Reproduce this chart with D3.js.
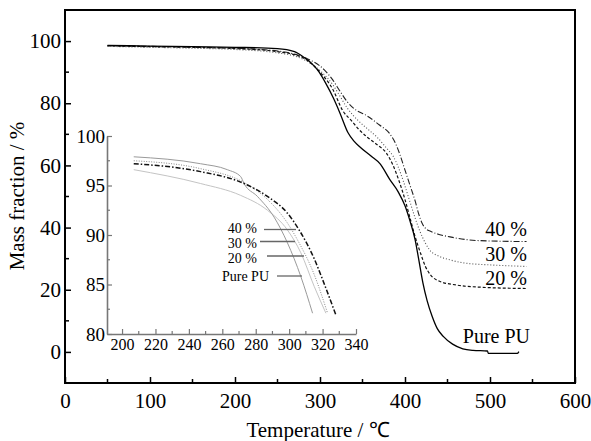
<!DOCTYPE html>
<html><head><meta charset="utf-8">
<script src="https://cdn.jsdelivr.net/npm/d3@7"></script>
<style>body{margin:0;background:#fff}svg{display:block}</style>
</head><body><svg id="c" width="591" height="441"></svg>
<script>
// ---- main chart data (Temperature °C, Mass fraction %) ----
const pureT = [50,100,150,200,250,270,281,291,299,307,316,324,333,340,347,360,371,382,392,400,406,412,416,421,426,432,438,445,456,468,480,497,498,532,534];
const pureM = [98.6,98.4,98.2,98.0,97.6,96.6,94.8,92.6,90.0,86.3,81.5,76.5,70.5,67.8,65.9,63.0,60.4,55.5,51.5,47.0,42.0,36.0,30.0,22.3,16.5,11.4,7.5,5.0,2.5,1.0,0.5,0.3,-0.5,-0.5,0.1];
const p40T = [50,100,150,200,250,270,285,299,307,315,323,332,340,355,370,382,389,394,400,406,412,416,420,425,430,440,453,470,488,543];
const p40M = [98.5,98.3,98.0,97.7,96.8,95.8,94.3,92.2,90.2,87.5,84.1,80.5,78.3,76.0,73.0,70.2,67.0,63.5,58.5,53.5,48.5,44.5,41.5,39.5,38.8,37.8,37.0,36.2,35.8,35.5];
const p30T = [50,100,150,200,250,270,285,300,315,323,332,345,357,367,380,386,392,398,405,412,418,424,429,440,453,470,500,543];
const p30M = [98.3,98.0,97.7,97.3,96.2,95.2,93.5,90.5,86.0,82.5,78.5,74.4,71.5,69.1,65.0,63.0,59.5,55.0,49.0,43.0,38.5,35.0,32.8,30.8,29.6,28.6,28.0,27.5];
const p20T = [50,100,150,200,250,270,285,300,315,327,337,346,356,368,378,386,393,400,406,412,418,424,430,440,461,490,543];
const p20M = [98.5,98.2,98.0,97.6,96.6,95.6,93.8,90.0,84.5,77.5,74.4,71.5,69.0,66.5,64.0,60.0,55.0,49.0,43.0,37.0,32.0,27.5,24.8,22.8,21.5,20.8,20.4];

// ---- inset data (zoom 190-340 °C) ----
const inPureT = [207,247,263,271,273,281,291,299,307,314];
const inPureM = [97.9,97.2,96.6,95.9,95.2,93.9,91.8,89.2,85.8,82.1];
const in40T = [207,247,273,287,299,306,315,320,328];
const in40M = [97.2,96.4,95.2,93.9,92.2,90.5,87.6,85.5,81.9];
const in30T = [207,247,273,287,299,305,315,323];
const in30M = [97.5,96.7,95.3,93.6,91.2,89.5,86.0,82.1];
const in20T = [207,247,271,287,299,307,315,322];
const in20M = [96.6,95.2,94.0,92.5,90.5,88.2,84.8,82.1];

const mainXTicks = [0,100,200,300,400,500,600];
const mainYTicks = [0,20,40,60,80,100];
const insetXTicks = [200,220,240,260,280,300,320,340];
const insetYTicks = [80,85,90,95,100];
const seriesLabels = ["40 %","30 %","20 %","Pure PU"];

const svg = d3.select("#c");
const FONT = "'Liberation Serif','Times New Roman',serif";

// main scales
const x = d3.scaleLinear().domain([0,600]).range([65,575]);
const y = d3.scaleLinear().domain([-10,110]).range([383,10]);

// inward ticks
const xAxis = d3.axisBottom(x).tickValues(mainXTicks).tickSize(-6).tickPadding(10).tickFormat(d3.format("d"));
const yAxis = d3.axisLeft(y).tickValues(mainYTicks).tickSize(-6).tickPadding(4).tickFormat(d3.format("d"));

const gx = svg.append("g").attr("transform","translate(0,383)").call(xAxis);
const gy = svg.append("g").attr("transform","translate(65,0)").call(yAxis);
[gx,gy].forEach(g=>{
  g.select(".domain").remove();
  g.selectAll("line").attr("stroke","#000").attr("stroke-width",1.5);
  g.selectAll("text").attr("font-family",FONT).attr("font-size",21).attr("fill","#000");
});
// minor ticks
svg.append("g").selectAll("line").data(d3.range(50,600,100)).join("line")
  .attr("x1",d=>x(d)).attr("x2",d=>x(d)).attr("y1",383).attr("y2",379).attr("stroke","#000").attr("stroke-width",1.5);
svg.append("g").selectAll("line").data(d3.range(-10,111,20).filter(v=>v>-10&&v<110)).join("line")
  .attr("x1",65).attr("x2",69).attr("y1",d=>y(d)).attr("y2",d=>y(d)).attr("stroke","#000").attr("stroke-width",1.5);

// frame
svg.append("rect").attr("x",65).attr("y",10).attr("width",510).attr("height",373)
  .attr("fill","none").attr("stroke","#000").attr("stroke-width",2);

// axis titles
svg.append("text").attr("x",318).attr("y",437).attr("text-anchor","middle")
  .attr("font-family",FONT).attr("font-size",21).text("Temperature / ℃");
svg.append("text").attr("transform","translate(24,196) rotate(-90)").attr("text-anchor","middle")
  .attr("font-family",FONT).attr("font-size",21).text("Mass fraction / %");

const line = d3.line().x(d=>x(d[0])).y(d=>y(d[1])).curve(d3.curveMonotoneX);
const zip = (a,b)=>a.map((v,i)=>[v,b[i]]);

const mainSeries = [
  {t:p40T,m:p40M,stroke:"#222",w:1.1,dash:"6,2,1,2"},
  {t:p30T,m:p30M,stroke:"#555",w:1.1,dash:"1,2"},
  {t:p20T,m:p20M,stroke:"#111",w:1.2,dash:"3,2"},
  {t:pureT,m:pureM,stroke:"#000",w:1.3,dash:null}
];
mainSeries.forEach(s=>{
  svg.append("path").datum(zip(s.t,s.m)).attr("d",line).attr("fill","none")
    .attr("stroke",s.stroke).attr("stroke-width",s.w).attr("stroke-dasharray",s.dash);
});

// main series labels
const mainLabelPos = [[527,236],[527,261],[527,285],[530,343]];
seriesLabels.forEach((l,i)=>{
  svg.append("text").attr("x",mainLabelPos[i][0]).attr("y",mainLabelPos[i][1])
    .attr("text-anchor","end").attr("font-family",FONT).attr("font-size",20).text(l);
});

// ---- inset ----
const xi = d3.scaleLinear().domain([191,340]).range([107,356]);
const yi = d3.scaleLinear().domain([80,100]).range([334,136]);
const AX = "#777";
const gxi = svg.append("g").attr("transform","translate(0,334)")
  .call(d3.axisBottom(xi).tickValues(insetXTicks).tickSize(-5).tickPadding(5).tickSizeOuter(0));
const gyi = svg.append("g").attr("transform","translate(107,0)")
  .call(d3.axisLeft(yi).tickValues(insetYTicks).tickSize(-5).tickPadding(2).tickSizeOuter(0));
[gxi,gyi].forEach(g=>{
  g.select(".domain").attr("stroke",AX).attr("stroke-width",1.6);
  g.selectAll("line").attr("stroke",AX).attr("stroke-width",1.2);
  g.selectAll("text").attr("font-family",FONT).attr("fill","#000");
});
gxi.selectAll("text").attr("font-size",16);
gyi.selectAll("text").attr("font-size",19);
svg.append("g").selectAll("line").data(d3.range(210,340,20)).join("line")
  .attr("x1",d=>xi(d)).attr("x2",d=>xi(d)).attr("y1",334).attr("y2",331).attr("stroke",AX).attr("stroke-width",1.2);
svg.append("g").selectAll("line").data([82.5,87.5,92.5,97.5]).join("line")
  .attr("x1",107).attr("x2",110).attr("y1",d=>yi(d)).attr("y2",d=>yi(d)).attr("stroke",AX).attr("stroke-width",1.2);

const linei = d3.line().x(d=>xi(d[0])).y(d=>yi(d[1])).curve(d3.curveMonotoneX);
const insetSeries = [
  {t:in20T,m:in20M,stroke:"#c4c4c4",w:1,dash:null},
  {t:inPureT,m:inPureM,stroke:"#9a9a9a",w:1,dash:null},
  {t:in30T,m:in30M,stroke:"#888",w:1,dash:"1,1.5"},
  {t:in40T,m:in40M,stroke:"#111",w:1.5,dash:"5,2,1.5,2"}
];
insetSeries.forEach(s=>{
  svg.append("path").datum(zip(s.t,s.m)).attr("d",linei).attr("fill","none")
    .attr("stroke",s.stroke).attr("stroke-width",s.w).attr("stroke-dasharray",s.dash);
});

// inset labels with leader lines
const insetLab = [
  {tx:257,ty:233,x1:264,x2:296,ly:229.5},
  {tx:257,ty:248,x1:260,x2:295,ly:241.5},
  {tx:257,ty:263,x1:267,x2:304,ly:256},
  {tx:269,ty:281,x1:277,x2:302,ly:276}
];
insetLab.forEach((o,i)=>{
  svg.append("text").attr("x",o.tx).attr("y",o.ty).attr("text-anchor","end")
    .attr("font-family",FONT).attr("font-size",14).text(seriesLabels[i]);
  svg.append("line").attr("x1",o.x1).attr("x2",o.x2).attr("y1",o.ly).attr("y2",o.ly)
    .attr("stroke","#666").attr("stroke-width",1.3);
});
</script></body></html>
